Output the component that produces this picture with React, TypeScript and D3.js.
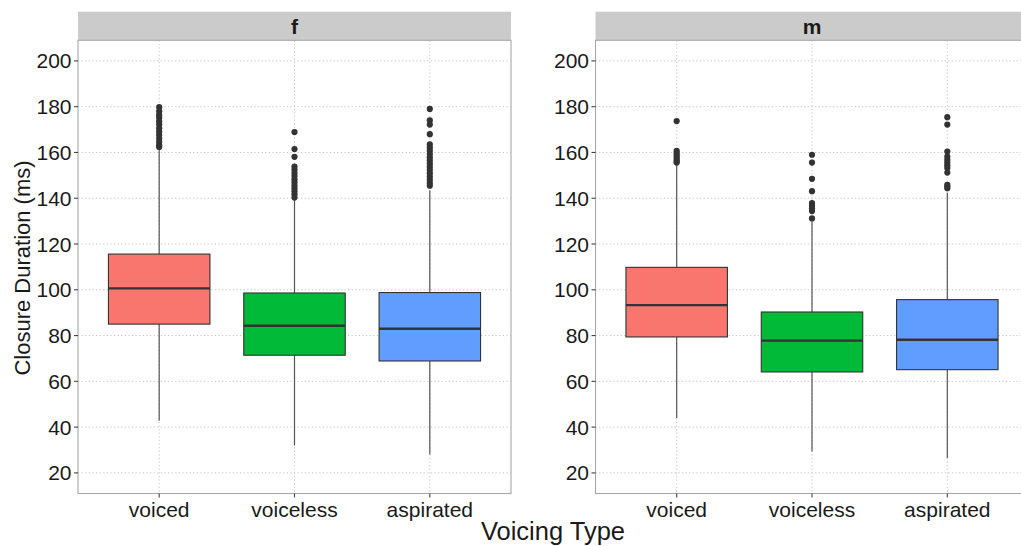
import React from "react";
import * as d3 from "d3";

const categories = ["voiced", "voiceless", "aspirated"];
const panels = ["f", "m"];
const colors = ["#F8766D", "#00BA38", "#619CFF"];
const yTicks = [20, 40, 60, 80, 100, 120, 140, 160, 180, 200];

// [lowerWhisker, q1, median, q3, upperWhisker] per panel per category
const statsF = [
  [42.8, 85.0, 100.6, 115.6, 161.5],
  [32.0, 71.4, 84.3, 98.6, 139.5],
  [28.0, 68.9, 83.0, 98.8, 143.5],
];
const statsM = [
  [44.0, 79.4, 93.3, 109.8, 155.0],
  [29.4, 64.1, 77.8, 90.3, 129.8],
  [26.5, 65.1, 78.2, 95.7, 142.4],
];

const outliersF = [
  [179.8, 178, 176.4, 175.2, 173.6, 172.3, 170.6, 169.1, 167.6, 166.1, 164.6, 163.2, 162.4],
  [168.9, 161.5, 158.1, 153.8, 152.4, 151, 149.7, 148.3, 147, 145.6, 144.3, 143, 141.7, 140.3],
  [179, 174, 172.2, 168, 163.5, 162.1, 160.7, 159.3, 157.9, 156.5, 155.1, 153.7, 152.3, 150.9, 149.5, 148.1, 146.7, 145.5],
];
const outliersM = [
  [173.7, 160.7, 159.7, 158.7, 157.8, 156.9, 156.0, 155.6],
  [159, 155.6, 148.5, 143.1, 137.9, 136.8, 135.6, 134.4, 131.2],
  [175.4, 172.2, 160.4, 158.2, 156.8, 155.6, 154.4, 153.2, 151.2, 145.9, 145.1, 144.4],
];

const panelStats = [statsF, statsM];
const panelOutliers = [outliersF, outliersM];

const W = 1021;
const H = 546;
const panelLefts = [78, 595.5];
const panelWidth = 433;
const panelTop = 40.3;
const panelBottom = 493.5;
const stripTop = 11.7;
const font = "'Liberation Sans', Arial, Helvetica, sans-serif";

export default function App() {
  const y = d3.scaleLinear().domain([11, 209]).range([panelBottom, panelTop]);

  return (
    <svg
      width={W}
      height={H}
      style={{ position: "absolute", left: 0, top: 0, background: "#fff" }}
      fontFamily={font}
    >
      <defs>
        {panels.map((p, pi) => (
          <clipPath id={`clip-${p}`} key={p}>
            <rect x={panelLefts[pi]} y={panelTop} width={panelWidth} height={panelBottom - panelTop} />
          </clipPath>
        ))}
      </defs>
      {panels.map((p, pi) => {
        const left = panelLefts[pi];
        const x = d3
          .scalePoint<string>()
          .domain(categories)
          .range([left, left + panelWidth])
          .padding(0.6);
        const step = x.step();
        const bw = step * 0.75;
        const stats = panelStats[pi];
        const outs = panelOutliers[pi];
        return (
          <g key={p}>
            <rect x={left} y={stripTop} width={panelWidth} height={panelTop - stripTop} fill="#cbcbcb" />
            <text
              x={left + panelWidth / 2}
              y={(stripTop + panelTop) / 2}
              dy="0.36em"
              textAnchor="middle"
              fontSize={21}
              fontWeight="bold"
              fill="#1a1a1a"
            >
              {p}
            </text>
            <g clipPath={`url(#clip-${p})`}>
              {yTicks.map((t) => (
                <line
                  key={t}
                  x1={left}
                  x2={left + panelWidth}
                  y1={y(t)}
                  y2={y(t)}
                  stroke="#c4c4c4"
                  strokeWidth={1}
                  strokeDasharray="1.2,2.4"
                />
              ))}
              {categories.map((c) => (
                <line
                  key={c}
                  x1={x(c)}
                  x2={x(c)}
                  y1={panelTop}
                  y2={panelBottom}
                  stroke="#c4c4c4"
                  strokeWidth={1}
                  strokeDasharray="1.2,2.4"
                />
              ))}
              {categories.map((c, ci) => {
                const [lo, q1, med, q3, hi] = stats[ci];
                const cx = x(c) as number;
                return (
                  <g key={c}>
                    <line x1={cx} x2={cx} y1={y(hi)} y2={y(q3)} stroke="#555" strokeWidth={1.2} />
                    <line x1={cx} x2={cx} y1={y(q1)} y2={y(lo)} stroke="#555" strokeWidth={1.2} />
                    <rect
                      x={cx - bw / 2}
                      y={y(q3)}
                      width={bw}
                      height={y(q1) - y(q3)}
                      fill={colors[ci]}
                      stroke="#333"
                      strokeWidth={1.1}
                    />
                    <line
                      x1={cx - bw / 2}
                      x2={cx + bw / 2}
                      y1={y(med)}
                      y2={y(med)}
                      stroke="#333"
                      strokeWidth={2.4}
                    />
                    {outs[ci].map((v, i) => (
                      <circle key={i} cx={cx} cy={y(v)} r={3.1} fill="#333" />
                    ))}
                  </g>
                );
              })}
            </g>
            <rect
              x={left}
              y={panelTop}
              width={panelWidth}
              height={panelBottom - panelTop}
              fill="none"
              stroke="#a8a8a8"
              strokeWidth={1.1}
            />
            {yTicks.map((t) => (
              <g key={t}>
                <line x1={left - 4} x2={left} y1={y(t)} y2={y(t)} stroke="#444" strokeWidth={1.1} />
                <text
                  x={left - 6.5}
                  y={y(t)}
                  dy="0.36em"
                  textAnchor="end"
                  fontSize={21}
                  fill="#1a1a1a"
                >
                  {t}
                </text>
              </g>
            ))}
            {categories.map((c) => (
              <g key={c}>
                <line x1={x(c)} x2={x(c)} y1={panelBottom} y2={panelBottom + 4} stroke="#444" strokeWidth={1.1} />
                <text x={x(c)} y={516.7} textAnchor="middle" fontSize={21} fill="#1a1a1a">
                  {c}
                </text>
              </g>
            ))}
          </g>
        );
      })}
      <text x={553} y={540} textAnchor="middle" fontSize={25.5} fill="#1a1a1a">
        Voicing Type
      </text>
      <text
        transform={`translate(30,268) rotate(-90)`}
        textAnchor="middle"
        fontSize={22}
        fill="#1a1a1a"
      >
        Closure Duration (ms)
      </text>
    </svg>
  );
}
